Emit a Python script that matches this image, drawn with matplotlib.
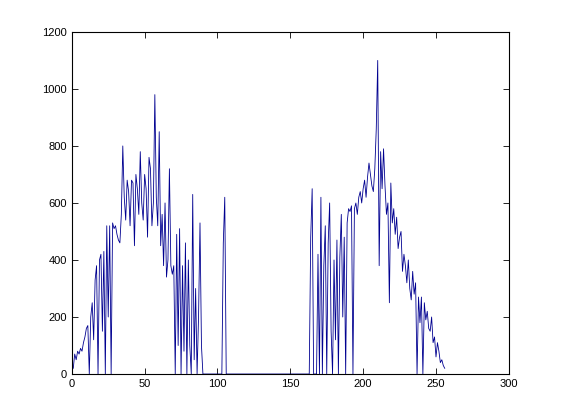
import matplotlib
matplotlib.use("Agg")
import matplotlib.pyplot as plt
import numpy as np

# contagem por nível (1..256)
niveis = np.arange(1, 257)

contagem_esq = [
    20, 70, 50, 80, 70, 90, 80, 110, 130, 160, 170,          # 1-11
    0, 200, 250, 120, 330, 380, 0, 400, 420, 150,            # 12-21
    430, 0, 520, 200, 520, 0, 530, 510, 520, 490,            # 22-31
    470, 460, 560, 800, 620, 540, 680, 640, 520, 680,        # 32-41
    670, 450, 700, 650, 560, 780, 600, 540, 700, 650,        # 42-51
    480, 760, 720, 520, 600, 980, 620, 520, 850, 450,        # 52-61
    560, 380, 600, 340, 400, 720, 380, 350, 380, 0,          # 62-71
    490, 100, 510, 0, 380, 80, 460, 0, 400, 100,             # 72-81
    0, 630, 50, 300, 0, 200, 530, 100, 0,                    # 82-90
]
contagem_meio = [0] * 13 + [460, 620] + [0] * 58              # 91-163
contagem_dir = [
    480, 650, 0, 0, 0, 420, 0, 620, 0, 380,                  # 164-173
    520, 0, 460, 600, 150, 0, 400, 120, 470, 0,              # 174-183
    410, 560, 200, 480, 0, 530, 580, 570, 590, 0,            # 184-193
    580, 600, 560, 620, 640, 600, 650, 680, 620, 690,        # 194-203
    740, 700, 660, 640, 720, 860, 1100, 380, 780, 650,       # 204-213
    790, 660, 560, 600, 250, 670, 530, 580, 490, 550,        # 214-223
    440, 480, 500, 360, 420, 380, 320, 400, 300, 260,        # 224-233
    360, 280, 320, 0, 270, 180, 270, 0, 250, 190,            # 234-243
    220, 160, 150, 200, 110, 130, 60, 110, 80, 40,           # 244-253
    50, 30, 20,                                              # 254-256
]
contagem = contagem_esq + contagem_meio + contagem_dir

plt.rcParams['font.family'] = ['Liberation Sans', 'DejaVu Sans']

fig = plt.figure(figsize=(5.61, 4.2), dpi=100)
ax = fig.add_axes([0.128, 0.1095, 0.779, 0.8145])
ax.plot(niveis, contagem, color="#000090", linewidth=0.6)

ax.set_xlim(0, 300)
ax.set_ylim(0, 1200)
ax.set_xticks(range(0, 301, 50))
ax.set_yticks(range(0, 1201, 200))
ax.tick_params(direction="in", top=True, right=True, labelsize=8, length=4, width=0.6)
for s in ax.spines.values():
    s.set_linewidth(0.8)
    s.set_zorder(3)

fig.savefig("out.png", dpi=100)
